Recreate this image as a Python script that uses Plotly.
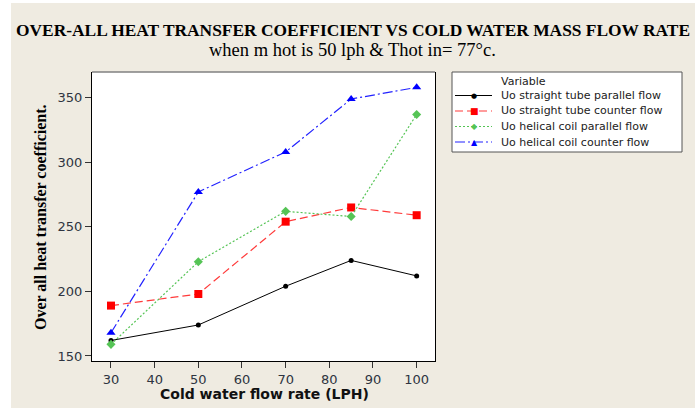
import plotly.graph_objects as go

# Cold water flow rate (LPH)
flow_rate = [30, 50, 70, 85, 100]

# Over-all heat transfer coefficient for each configuration
uo_straight_parallel = [162, 174, 204, 224, 212]
uo_straight_counter = [189, 198, 254, 265, 259]
uo_helical_parallel = [159, 223, 262, 258, 337]
uo_helical_counter = [168, 277, 308, 349, 358]

series_names = [
    "Uo straight tube parallel flow",
    "Uo straight tube counter flow",
    "Uo helical coil parallel flow",
    "Uo helical coil counter flow",
]

x_ticks = [30, 40, 50, 60, 70, 80, 90, 100]
y_ticks = [150, 200, 250, 300, 350]

W, H = 695, 408
L, R, T, B = 92, 435, 72, 361  # plot area in pixels


def px(x):
    return (x - L) / (R - L)


def py(y):
    return (B - y) / (B - T)


BG = "#EFEBE1"
TICK_FONT = dict(family="DejaVu Sans", size=13, color="#2E3440")
LEG_FONT = dict(family="DejaVu Sans", size=11, color="#222222")

styles = [
    dict(line=dict(color="#000000", width=1, dash="solid"),
         marker=dict(symbol="circle", size=5, color="#000000"),
         glyph="●", gsize=7),
    dict(line=dict(color="#FF3B3B", width=1.2, dash="8px,4px"),
         marker=dict(symbol="square", size=8, color="#FF0000"),
         glyph="■", gsize=9),
    dict(line=dict(color="#55C455", width=1.2, dash="2px,2px"),
         marker=dict(symbol="diamond", size=7, color="#55C455"),
         glyph="◆", gsize=8),
    dict(line=dict(color="#2222FF", width=1.2, dash="10px,3px,2px,3px"),
         marker=dict(symbol="triangle-up", size=8, color="#0000FF"),
         glyph="▲", gsize=8),
]

all_values = [uo_straight_parallel, uo_straight_counter,
              uo_helical_parallel, uo_helical_counter]

fig = go.Figure()
for name, vals, st in zip(series_names, all_values, styles):
    fig.add_trace(go.Scatter(
        x=flow_rate, y=vals, mode="lines+markers", name=name,
        line=st["line"], marker=st["marker"], showlegend=False,
    ))

shapes = [
    # top frame edge in grey
    dict(type="line", xref="paper", yref="paper", x0=0, x1=1, y0=1, y1=1,
         line=dict(color="#808080", width=1.5)),
    # white strips along the left and top edges of the page
    dict(type="rect", xref="paper", yref="paper",
         x0=px(0), x1=px(11), y0=py(H), y1=py(0),
         fillcolor="white", line=dict(width=0), layer="below"),
    dict(type="rect", xref="paper", yref="paper",
         x0=px(0), x1=px(W), y0=py(3), y1=py(0),
         fillcolor="white", line=dict(width=0), layer="below"),
    # legend box
    dict(type="rect", xref="paper", yref="paper",
         x0=px(452), x1=px(682), y0=py(152), y1=py(72),
         fillcolor="white", line=dict(color="#555555", width=1)),
]

annotations = [
    dict(text="<b>OVER-ALL HEAT TRANSFER COEFFICIENT VS COLD WATER MASS FLOW RATE</b>",
         xref="paper", yref="paper", x=px(353), y=py(30),
         xanchor="center", yanchor="middle", showarrow=False,
         font=dict(family="Liberation Serif", size=17.4, color="black")),
    dict(text="when m hot is 50 lph &amp; Thot in= 77°c.",
         xref="paper", yref="paper", x=px(352), y=py(50),
         xanchor="center", yanchor="middle", showarrow=False,
         font=dict(family="Liberation Serif", size=18.5, color="black")),
    dict(text="<b>Over all heat transfer coefficient.</b>",
         xref="paper", yref="paper", x=px(40), y=py(217),
         xanchor="center", yanchor="middle", showarrow=False, textangle=-90,
         font=dict(family="Liberation Serif", size=16, color="black")),
    dict(text="<b>Cold water flow rate (LPH)</b>",
         xref="paper", yref="paper", x=px(264), y=py(394),
         xanchor="center", yanchor="middle", showarrow=False,
         font=dict(family="DejaVu Sans", size=14, color="#111111")),
    dict(text="Variable", xref="paper", yref="paper", x=px(499), y=py(81),
         xanchor="left", yanchor="middle", showarrow=False, font=LEG_FONT),
]

# legend rows: sample line, marker glyph and series name
row_y = [95.5, 111, 126.5, 142]
for name, st, ry in zip(series_names, styles, row_y):
    shapes.append(dict(type="line", xref="paper", yref="paper",
                       x0=px(455), x1=px(492), y0=py(ry), y1=py(ry),
                       line=st["line"]))
    annotations.append(dict(text=st["glyph"], xref="paper", yref="paper",
                            x=px(474), y=py(ry), xanchor="center",
                            yanchor="middle", showarrow=False,
                            font=dict(family="DejaVu Sans", size=st["gsize"],
                                      color=st["marker"]["color"])))
    annotations.append(dict(text=name, xref="paper", yref="paper",
                            x=px(499), y=py(ry), xanchor="left",
                            yanchor="middle", showarrow=False, font=LEG_FONT))

fig.update_layout(
    width=W, height=H,
    margin=dict(l=L, r=W - R, t=T, b=H - B, pad=0),
    paper_bgcolor=BG,
    plot_bgcolor="white",
    showlegend=False,
    xaxis=dict(
        range=[25.65, 104.2], tickvals=x_ticks,
        showgrid=False, zeroline=False,
        showline=True, linecolor="black", linewidth=1,
        ticks="outside", ticklen=6, tickcolor="#333333",
        tickfont=TICK_FONT,
    ),
    yaxis=dict(
        range=[146.1, 369.9], tickvals=y_ticks,
        showgrid=False, zeroline=False,
        showline=True, linecolor="black", linewidth=1, mirror=True,
        ticks="outside", ticklen=6, tickcolor="#333333",
        tickfont=TICK_FONT,
    ),
    shapes=shapes,
    annotations=annotations,
)

fig.write_html("out.html")
